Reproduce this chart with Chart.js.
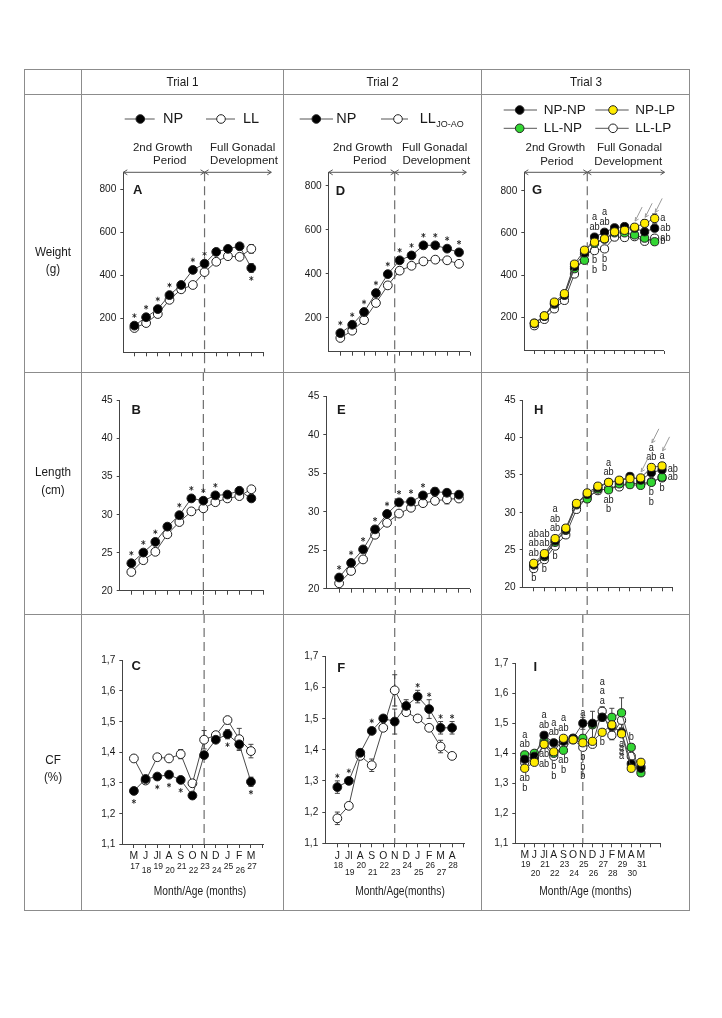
<!DOCTYPE html>
<html>
<head>
<meta charset="utf-8">
<script src="https://cdn.jsdelivr.net/npm/chart.js@4.4.0/dist/chart.umd.min.js"></script>
<style>
  body { margin:0; background:#fff; width:722px; height:1018px; position:relative; overflow:hidden;
         font-family:"Liberation Sans", Arial, sans-serif; color:#1a1a1a; }
  canvas { position:absolute; }
  .ln { position:absolute; background:#8c8c8c; z-index:5; }
</style>
</head>
<body>
<canvas id="frame" width="722" height="1018" style="left:0;top:0;width:722px;height:1018px"></canvas>
<script>
// ---------- data ----------
const monthsT1 = ['M','J','Jl','A','S','O','N','D','J','F','M'];
const agesT1   = [17,18,19,20,21,22,23,24,25,26,27];
const monthsT2 = ['J','Jl','A','S','O','N','D','J','F','M','A'];
const agesT2   = [18,19,20,21,22,23,24,25,26,27,28];
const monthsT3 = ['M','J','Jl','A','S','O','N','D','J','F','M','A','M'];
const agesT3   = [19,20,21,22,23,24,25,26,27,28,29,30,31];

const weightTicks = [200,400,600,800];
const lengthTicks = [20,25,30,35,40,45];
const cfTicks     = [1.1,1.2,1.3,1.4,1.5,1.6,1.7];

// trial 1
const weightT1NP = [166,205,243,308,355,425,454,509,523,535,434];
const weightT1LL = [155,178,220,286,335,355,415,463,489,486,523];
const lengthT1NP = [23.6,25.0,26.4,28.4,29.9,32.1,31.8,32.5,32.6,33.1,32.1];
const lengthT1LL = [22.45,24.0,25.1,27.4,29.0,30.4,30.8,31.6,32.1,32.4,33.3];
const cfT1NP     = [1.273,1.312,1.32,1.326,1.309,1.258,1.39,1.44,1.458,1.425,1.303];
const cfT1LL     = [1.379,1.307,1.383,1.379,1.393,1.298,1.44,1.455,1.504,1.442,1.403];

// trial 2
const weightT2NP = [130,168,226,312,398,461,483,529,529,514,497];
const weightT2LL = [108,141,189,267,347,414,436,456,464,461,445];
const lengthT2NP = [21.45,23.35,25.1,27.7,29.7,31.2,31.3,32.1,32.6,32.45,32.2];
const lengthT2LL = [20.7,22.3,23.8,27.0,28.55,29.75,30.5,31.1,31.4,31.6,31.7];
const cfT2NP     = [1.28,1.30,1.39,1.46,1.50,1.49,1.54,1.57,1.53,1.47,1.47];
const cfT2LL     = [1.18,1.22,1.38,1.35,1.47,1.59,1.52,1.50,1.47,1.41,1.38];

// trial 3
const weightT3NPLP = [172,207,272,312,452,518,556,572,605,612,627,645,668];
const weightT3NPNP = [170,205,265,305,440,505,580,603,624,630,622,605,622];
const weightT3LLNP = [172,205,262,305,430,470,550,570,600,600,590,575,558];
const weightT3LLLP = [160,190,240,280,405,498,516,524,580,578,582,560,575];
const lengthT3NPLP = [23.2,24.5,26.5,27.9,31.2,32.6,33.5,34.0,34.3,34.5,34.6,36.0,36.2];
const lengthT3NPNP = [23.0,24.2,26.2,27.7,31.1,32.4,33.3,34.0,34.2,34.8,34.3,35.3,35.7];
const lengthT3LLNP = [23.0,24.1,26.0,27.6,31.0,31.8,33.1,33.0,33.8,33.7,33.6,34.0,34.7];
const lengthT3LLLP = [22.5,23.7,25.5,27.0,30.4,32.0,32.9,33.2,33.4,33.9,33.8,34.1,34.6];
const cfT3NPLP = [1.35,1.37,1.43,1.405,1.45,1.445,1.435,1.44,1.47,1.495,1.465,1.35,1.37];
const cfT3NPNP = [1.38,1.39,1.46,1.435,1.44,1.45,1.50,1.50,1.52,1.49,1.47,1.365,1.35];
const cfT3LLNP = [1.395,1.40,1.44,1.40,1.41,1.45,1.45,1.495,1.52,1.52,1.535,1.42,1.335];
const cfT3LLLP = [1.37,1.38,1.43,1.39,1.43,1.445,1.42,1.43,1.54,1.46,1.51,1.39,1.355];

// standard errors (only where a bar is visible)
const weightT1NPErr = [0,0,0,0,0,0,0,0,0,15,20];
const weightT1LLErr = [0,0,0,0,0,0,0,0,0,0,20];
const lengthT2NPErr = [0,0,0,0,0,0,0,0,0.5,0,0];
const lengthT2LLErr = [0,0,0,0,0,0,0,0,0,0.6,0];
const cfT1NPErr = [0.01,0,0,0,0,0,0.01,0,0.015,0.02,0.015];
const cfT1LLErr = [0,0,0,0,0.015,0.012,0.03,0.01,0.012,0.035,0.022];
const cfT2NPErr = [0.02,0,0,0,0,0.04,0.02,0.02,0.03,0.02,0.02];
const cfT2LLErr = [0.02,0,0,0.02,0,0.05,0,0,0,0.02,0];
const weightT3NPLPErr = [0,0,0,0,0,0,0,0,0,0,15,18,22];
const weightT3NPNPErr = [0,0,0,0,0,0,0,0,0,0,0,0,15];
const cfT3NPNPErr = [0,0,0,0,0,0,0.02,0,0,0,0,0,0];
const cfT3LLNPErr = [0,0,0,0,0,0,0,0.045,0,0.03,0.05,0,0];
const cfT3LLLPErr = [0,0,0,0,0,0,0,0,0.015,0.015,0,0,0];

// significance marks
const starsT1WeightAbove = [0,1,2,3,5,6];
const starsT1WeightBelow = [10];
const starsT1LengthAbove = [0,1,2,4,5,6,7];
const starsT1CFBelow     = [0,2,3,4,8,10];
const starsT2WeightAbove = [0,1,2,3,4,5,6,7,8,9,10];
const starsT2LengthAbove = [0,1,2,3,4,5,6,7];
const starsT2CFAbove     = [0,1,3,7,8,9,10];

// trial 3 series order: 0 NP-LP, 1 NP-NP, 2 LL-NP, 3 LL-LP
const lettersT3Weight = [
  {i:6, above:['a','ab'], below:['b','b']},
  {i:7, above:['a','ab'], below:['b','b']},
  {i:12, right:[[0,'a'],[1,'ab'],[3,'ab'],[2,'b']]}
];
const lettersT3Length = [
  {i:0, above:['ab','ab','ab'], below:['b']},
  {i:1, above:['ab','ab'], below:['b']},
  {i:2, above:['a','ab','ab'], below:['b']},
  {i:7, above:['a','ab'], below:['ab','b']},
  {i:11, above:['a','ab'], below:['b','b']},
  {i:12, above:['a'], right:[[1,'ab'],[2,'ab']], below:['b']}
];
const lettersT3CF = [
  {i:0, above:['a','ab'], below:['ab','b']},
  {i:2, above:['a','ab'], below:['ab','ab']},
  {i:3, above:['a','ab'], below:['b','b']},
  {i:4, above:['a','ab'], below:['ab','b']},
  {i:6, above:['a'], below:['b','b','b']},
  {i:8, above:['a','a','a'], below:['b']},
  {i:10, below:['a','a','a','a'], gap:4},
  {i:11, above:['b']}
];
const arrowsT3 = [10,11,12];

// ---------- drawing helpers ----------
const FONT = '"Liberation Sans", Arial, sans-serif';
function txt(ctx, s, x, y, size, o = {}) {
  ctx.save();
  ctx.font = (o.bold ? 'bold ' : '') + size + 'px ' + FONT;
  ctx.fillStyle = o.color || '#1a1a1a';
  ctx.textAlign = o.align || 'center';
  ctx.textBaseline = 'middle';
  ctx.translate(x, y); ctx.scale(o.sx || 1, 1);
  ctx.fillText(s, 0, 0);
  ctx.restore();
}
function star(ctx, x, y) {
  ctx.save(); ctx.strokeStyle = '#222'; ctx.lineWidth = 0.9; ctx.beginPath();
  for (let k = 0; k < 3; k++) {
    const a = Math.PI / 2 + k * Math.PI / 3, c = 2.3 * Math.cos(a), s = 2.3 * Math.sin(a);
    ctx.moveTo(x - c, y - s); ctx.lineTo(x + c, y + s);
  }
  ctx.stroke(); ctx.restore();
}
function hArrow(ctx, x1, x2, y) {
  ctx.beginPath();
  ctx.moveTo(x1, y); ctx.lineTo(x2, y);
  ctx.moveTo(x1 + 4, y - 2.5); ctx.lineTo(x1, y); ctx.lineTo(x1 + 4, y + 2.5);
  ctx.moveTo(x2 - 4, y - 2.5); ctx.lineTo(x2, y); ctx.lineTo(x2 - 4, y + 2.5);
  ctx.stroke();
}
function dot(ctx, x, y, r, fill) {
  ctx.beginPath(); ctx.arc(x, y, r, 0, Math.PI * 2);
  ctx.fillStyle = fill; ctx.fill(); ctx.strokeStyle = '#222'; ctx.lineWidth = 1; ctx.stroke();
}

// ---------- page frame ----------
const vLines = [24.5, 81.5, 283, 481.5, 689.5];
const hLines = [69.5, 94.5, 372, 614, 910];
vLines.forEach(x => {
  const d = document.createElement('div'); d.className = 'ln';
  d.style.cssText = `left:${Math.round(x-0.5)}px;top:69px;width:1px;height:842px`;
  document.body.appendChild(d);
});
hLines.forEach(y => {
  const d = document.createElement('div'); d.className = 'ln';
  d.style.cssText = `left:24px;top:${Math.round(y-0.5)}px;width:666px;height:1px`;
  document.body.appendChild(d);
});
const fctx = document.getElementById('frame').getContext('2d');
[['Trial 1', 182.5, 82], ['Trial 2', 382.5, 82], ['Trial 3', 586, 82],
 ['Weight', 53, 252], ['(g)', 53, 269],
 ['Length', 53, 472], ['(cm)', 53, 490],
 ['CF', 53, 760], ['(%)', 53, 777]].forEach(([t, x, y]) => txt(fctx, t, x, y, 13, {sx: 0.9}));

const panelOf = new WeakMap();

const extras = {
  id: 'extras',
  beforeDatasetsDraw(chart) {
    const p = panelOf.get(chart.canvas); if (!p) return;
    const ctx = chart.ctx, xs = chart.scales.x, ys = chart.scales.y, oy = p.cell[1];
    // period divider
    const dx = xs.getPixelForValue(p.dashX);
    const y0 = p.dashFrom != null ? p.dashFrom - oy : 0;
    const y1 = p.dashTo === 'axis' ? chart.chartArea.bottom : chart.height;
    ctx.save(); ctx.strokeStyle = '#6e6e6e'; ctx.lineWidth = 1.2; ctx.setLineDash([9, 5]);
    ctx.beginPath(); ctx.moveTo(dx, y0); ctx.lineTo(dx, y1); ctx.stroke(); ctx.restore();
    // error bars
    ctx.save(); ctx.strokeStyle = '#444'; ctx.lineWidth = 1;
    (p.errs || []).forEach(e => {
      const vals = p.series[e.s].values;
      e.e.forEach((err, i) => {
        if (!err) return;
        const x = xs.getPixelForValue(i);
        const ya = ys.getPixelForValue(vals[i] + err), yb = ys.getPixelForValue(vals[i] - err);
        ctx.beginPath();
        ctx.moveTo(x, ya); ctx.lineTo(x, yb);
        ctx.moveTo(x - 2.5, ya); ctx.lineTo(x + 2.5, ya);
        ctx.moveTo(x - 2.5, yb); ctx.lineTo(x + 2.5, yb);
        ctx.stroke();
      });
    });
    ctx.restore();
  },
  afterDatasetsDraw(chart) {
    const p = panelOf.get(chart.canvas); if (!p) return;
    const ctx = chart.ctx, xs = chart.scales.x, ys = chart.scales.y;
    // stars
    (p.stars || []).forEach(st => {
      const vals = p.series[st.s].values, errs = st.err || [];
      (st.above || []).forEach(i => {
        const py = ys.getPixelForValue(vals[i]);
        const ey = errs[i] ? ys.getPixelForValue(vals[i] + errs[i]) - 5 : py;
        star(ctx, xs.getPixelForValue(i), Math.min(py - 10, ey));
      });
      (st.below || []).forEach(i => {
        const py = ys.getPixelForValue(vals[i]);
        const ey = errs[i] ? ys.getPixelForValue(vals[i] - errs[i]) + 5 : py;
        star(ctx, xs.getPixelForValue(i), Math.max(py + 10.5, ey));
      });
    });
    // letters
    const stackTop = {};
    (p.letters || []).forEach(L => {
      const x = xs.getPixelForValue(L.i);
      const pys = p.series.map(s => ys.getPixelForValue(s.values[L.i]));
      const top = Math.min(...pys) - p.r, bot = Math.max(...pys) + p.r;
      const gap = L.gap || 9.5;
      const ab = (L.above || []).slice().reverse();
      ab.forEach((t, k) => txt(ctx, t, x, top - 6 - k * gap, 10, {sx: 0.92}));
      if (ab.length) stackTop[L.i] = top - 6 - (ab.length - 1) * gap - 5;
      (L.below || []).forEach((t, k) => txt(ctx, t, x, bot + 6 + k * gap, 10, {sx: 0.92}));
      (L.right || []).forEach(([s, t]) => txt(ctx, t, x + p.r + 1.5, pys[s], 10, {align: 'left', sx: 0.92}));
    });
    // pointer arrows
    ctx.save(); ctx.strokeStyle = '#9a9a9a'; ctx.lineWidth = 1;
    (p.arrows || []).forEach(i => {
      const x = xs.getPixelForValue(i) + 0.5;
      const pys = p.series.map(s => ys.getPixelForValue(s.values[i]));
      let top = Math.min(...pys) - p.r - 2;
      if (stackTop[i] != null) top = stackTop[i];
      const tx = x + 7, ty = top - 14;
      ctx.beginPath(); ctx.moveTo(tx, ty); ctx.lineTo(x, top);
      ctx.moveTo(x + 0.5, top - 4); ctx.lineTo(x, top); ctx.lineTo(x + 3.5, top - 2);
      ctx.stroke();
    });
    ctx.restore();
  },
  afterDraw(chart) {
    const p = panelOf.get(chart.canvas); if (!p) return;
    const ctx = chart.ctx, xs = chart.scales.x, ys = chart.scales.y;
    const ox = p.cell[0], oy = p.cell[1], area = chart.chartArea;
    // y tick labels
    p.yTicks.forEach(v => txt(ctx, p.yFmt(v), area.left - 7, ys.getPixelForValue(v), 11.5, {align: 'right', sx: 0.88}));
    // panel tag
    txt(ctx, p.tag[0], p.tag[1] - ox, p.tag[2] - oy, 13, {bold: true});
    // period arrows and texts
    if (p.arrow) {
      const dx = xs.getPixelForValue(p.dashX), y = p.arrow.y - oy;
      ctx.save(); ctx.strokeStyle = '#555'; ctx.lineWidth = 1;
      hArrow(ctx, area.left, dx, y); hArrow(ctx, dx, p.arrow.right - ox, y);
      ctx.restore();
      p.period.forEach(([t, x, yy]) => txt(ctx, t, x - ox, yy - oy, 11.5, {color: '#222'}));
    }
    // legend
    (p.legend || []).forEach(L => {
      ctx.save(); ctx.strokeStyle = '#555'; ctx.lineWidth = 1;
      ctx.beginPath(); ctx.moveTo(L.x1 - ox, L.y - oy); ctx.lineTo(L.x2 - ox, L.y - oy); ctx.stroke();
      dot(ctx, L.dot - ox, L.y - oy, 4.3, L.fill);
      ctx.restore();
      txt(ctx, L.text, L.tx - ox, L.y - oy, L.size || 14.5, {align: 'left'});
      if (L.sub) {
        ctx.save(); ctx.font = (L.size || 14.5) + 'px ' + FONT;
        const w = ctx.measureText(L.text).width; ctx.restore();
        txt(ctx, L.sub, L.tx - ox + w + 0.5, L.y - oy + 6, 9, {align: 'left'});
      }
    });
    // month / age axis labels
    if (p.xlab) {
      const X = p.xlab;
      X.months.forEach((m, i) => {
        const x = xs.getPixelForValue(i);
        txt(ctx, m, x, X.my - oy, 11.5, {sx: 0.9});
        txt(ctx, String(X.ages[i]), x + 1, (i % 2 ? X.a2 : X.a1) - oy, 9.5, {sx: 0.9});
      });
      txt(ctx, X.title, X.tx - ox, X.ty - oy, 12, {sx: 0.85});
    }
  }
};

// ---------- panels ----------
const C1 = [82, 283], C2 = [283, 482], C3 = [482, 690];
const R1 = [95, 372], R2 = [372, 614], R3 = [614, 910];
const cell = (c, r) => [c[0], r[0], c[1], r[1]];
const fmtInt = v => String(v);
const fmtCF = v => v.toFixed(1).replace('.', ',');
const YELLOW = '#ffeb00', GREEN = '#33d633';

const t1 = (a, b) => [{values: a, fill: '#000'}, {values: b, fill: '#fff'}];
const t3 = (y, k, g, w) => [{values: y, fill: YELLOW}, {values: k, fill: '#000'}, {values: g, fill: GREEN}, {values: w, fill: '#fff'}];

const panels = [
  { // A
    cell: cell(C1, R1), box: {left: 123.3, right: 263, top: 172.3, bottom: 352.3},
    xmin: -0.95, xmax: 11, ymin: 42, ymax: 879, yTicks: weightTicks, yFmt: fmtInt, r: 4.4,
    series: t1(weightT1NP, weightT1LL), dashX: 6, dashFrom: 172.3,
    arrow: {y: 172.3, right: 271.3}, tag: ['A', 137.7, 190],
    period: [['2nd Growth', 162.7, 148.3], ['Period', 169.7, 160.7], ['Full Gonadal', 242.7, 148.3], ['Development', 244, 160.7]],
    legend: [{x1: 124.7, x2: 154.7, y: 119, dot: 140.3, fill: '#000', text: 'NP', tx: 163},
             {x1: 206, x2: 235, y: 119, dot: 221, fill: '#fff', text: 'LL', tx: 243}],
    stars: [{s: 0, above: starsT1WeightAbove, below: starsT1WeightBelow, err: weightT1NPErr}],
    errs: [{s: 0, e: weightT1NPErr}, {s: 1, e: weightT1LLErr}]
  },
  { // D
    cell: cell(C2, R1), box: {left: 328.7, right: 469.7, top: 172.3, bottom: 351.7},
    xmin: -0.98, xmax: 10.9, ymin: 45.5, ymax: 861, yTicks: weightTicks, yFmt: fmtInt, r: 4.4,
    series: t1(weightT2NP, weightT2LL), dashX: 4.58, dashFrom: 172.3,
    arrow: {y: 172.3, right: 466.3}, tag: ['D', 340.5, 191.7],
    period: [['2nd Growth', 362.7, 148.3], ['Period', 369.7, 160.7], ['Full Gonadal', 434.7, 148.3], ['Development', 436.3, 160.7]],
    legend: [{x1: 299.7, x2: 333, y: 119, dot: 316.3, fill: '#000', text: 'NP', tx: 336.3},
             {x1: 381, x2: 408, y: 119, dot: 398, fill: '#fff', text: 'LL', tx: 419.7, sub: 'JO-AO'}],
    stars: [{s: 0, above: starsT2WeightAbove}]
  },
  { // G
    cell: cell(C3, R1), box: {left: 524.3, right: 663.7, top: 172.3, bottom: 350},
    xmin: -1.0, xmax: 12.9, ymin: 45, ymax: 887, yTicks: weightTicks, yFmt: fmtInt, r: 4.1,
    series: t3(weightT3NPLP, weightT3NPNP, weightT3LLNP, weightT3LLLP), dashX: 5.28, dashFrom: 172.3,
    arrow: {y: 172.3, right: 664.5}, tag: ['G', 537, 190],
    period: [['2nd Growth', 555.3, 148.3], ['Period', 556.8, 161.7], ['Full Gonadal', 629.5, 148.3], ['Development', 628.2, 161.7]],
    legend: [{x1: 503.7, x2: 537, y: 110, dot: 519.7, fill: '#000', text: 'NP-NP', tx: 543.7, size: 13.5},
             {x1: 595.3, x2: 628.7, y: 110, dot: 613, fill: YELLOW, text: 'NP-LP', tx: 635.3, size: 13.5},
             {x1: 503.7, x2: 537, y: 128.3, dot: 519.7, fill: GREEN, text: 'LL-NP', tx: 543.7, size: 13.5},
             {x1: 595.3, x2: 628.7, y: 128.3, dot: 613, fill: '#fff', text: 'LL-LP', tx: 635.3, size: 13.5}],
    letters: lettersT3Weight, arrows: arrowsT3,
    errs: [{s: 0, e: weightT3NPLPErr}, {s: 1, e: weightT3NPNPErr}]
  },
  { // B
    cell: cell(C1, R2), box: {left: 119.7, right: 263, top: 400, bottom: 590.7},
    xmin: -0.97, xmax: 10.97, ymin: 20, ymax: 45, yTicks: lengthTicks, yFmt: fmtInt, r: 4.4,
    series: t1(lengthT1NP, lengthT1LL), dashX: 6, tag: ['B', 136.3, 410],
    stars: [{s: 0, above: starsT1LengthAbove}]
  },
  { // E
    cell: cell(C2, R2), box: {left: 326.3, right: 469.7, top: 396, bottom: 588.7},
    xmin: -1.07, xmax: 10.9, ymin: 20, ymax: 45, yTicks: lengthTicks, yFmt: fmtInt, r: 4.4,
    series: t1(lengthT2NP, lengthT2LL), dashX: 4.69, tag: ['E', 341.3, 410.7],
    stars: [{s: 0, above: starsT2LengthAbove, err: lengthT2NPErr}],
    errs: [{s: 0, e: lengthT2NPErr}, {s: 1, e: lengthT2LLErr}]
  },
  { // H
    cell: cell(C3, R2), box: {left: 522.7, right: 672, top: 400, bottom: 587.3},
    xmin: -1.03, xmax: 12.93, ymin: 20, ymax: 45, yTicks: lengthTicks, yFmt: fmtInt, r: 4.1,
    series: t3(lengthT3NPLP, lengthT3NPNP, lengthT3LLNP, lengthT3LLLP), dashX: 5.0, tag: ['H', 538.7, 410],
    letters: lettersT3Length, arrows: arrowsT3
  },
  { // C
    cell: cell(C1, R3), box: {left: 122.3, right: 263, top: 660, bottom: 844},
    xmin: -0.99, xmax: 11.03, ymin: 1.1, ymax: 1.7, yTicks: cfTicks, yFmt: fmtCF, r: 4.4,
    series: t1(cfT1NP, cfT1LL), dashX: 6, dashTo: 'axis', tag: ['C', 136.3, 666.7],
    stars: [{s: 0, below: starsT1CFBelow, err: cfT1NPErr}],
    errs: [{s: 0, e: cfT1NPErr}, {s: 1, e: cfT1LLErr}],
    xlab: {months: monthsT1, ages: agesT1, my: 855.7, a1: 866, a2: 870, title: 'Month/Age (months)', tx: 200, ty: 891.7}
  },
  { // F
    cell: cell(C2, R3), box: {left: 325.3, right: 464.7, top: 656, bottom: 843.3},
    xmin: -1.05, xmax: 11.1, ymin: 1.1, ymax: 1.7, yTicks: cfTicks, yFmt: fmtCF, r: 4.4,
    series: t1(cfT2NP, cfT2LL), dashX: 5, dashTo: 'axis', tag: ['F', 341.3, 668.3],
    stars: [{s: 0, above: starsT2CFAbove, err: cfT2NPErr}],
    errs: [{s: 0, e: cfT2NPErr}, {s: 1, e: cfT2LLErr}],
    xlab: {months: monthsT2, ages: agesT2, my: 855.7, a1: 865, a2: 872, title: 'Month/Age(months)', tx: 400, ty: 891.7}
  },
  { // I
    cell: cell(C3, R3), box: {left: 515.3, right: 660.3, top: 663.3, bottom: 843.3},
    xmin: -0.97, xmax: 14.0, ymin: 1.1, ymax: 1.7, yTicks: cfTicks, yFmt: fmtCF, r: 4.1,
    series: t3(cfT3NPLP, cfT3NPNP, cfT3LLNP, cfT3LLLP), dashX: 6, dashTo: 'axis', tag: ['I', 535.3, 667.7],
    letters: lettersT3CF,
    errs: [{s: 1, e: cfT3NPNPErr}, {s: 2, e: cfT3LLNPErr}, {s: 3, e: cfT3LLLPErr}],
    xlab: {months: monthsT3, ages: agesT3, my: 855, a1: 864, a2: 873, title: 'Month/Age (months)', tx: 585.5, ty: 891.7}
  }
];

const YW = 20, XH = 5;
panels.forEach(p => {
  const w = p.cell[2] - p.cell[0], h = p.cell[3] - p.cell[1];
  const cv = document.createElement('canvas');
  cv.width = w; cv.height = h;
  cv.style.left = p.cell[0] + 'px'; cv.style.top = p.cell[1] + 'px';
  cv.style.width = w + 'px'; cv.style.height = h + 'px';
  document.body.appendChild(cv);
  panelOf.set(cv, p);
  const nTicks = Math.floor(p.xmax + 0.15);
  new Chart(cv, {
    type: 'line',
    data: {
      datasets: p.series.map(s => ({
        data: s.values.map((v, i) => ({x: i, y: v})),
        borderColor: '#4a4a4a', borderWidth: 1, tension: 0, fill: false,
        pointRadius: p.r, pointBackgroundColor: s.fill,
        pointBorderColor: '#1e1e1e', pointBorderWidth: 1
      }))
    },
    options: {
      responsive: false, animation: false, devicePixelRatio: 1,
      layout: {padding: {
        left: p.box.left - p.cell[0] - YW,
        right: p.cell[2] - p.box.right,
        top: p.box.top - p.cell[1],
        bottom: p.cell[3] - p.box.bottom - XH
      }},
      plugins: {legend: {display: false}, tooltip: {enabled: false}},
      scales: {
        x: {
          type: 'linear', min: p.xmin, max: p.xmax,
          afterFit: s => { s.height = XH; },
          afterBuildTicks: s => { s.ticks = Array.from({length: nTicks + 1}, (_, k) => ({value: k})); },
          ticks: {display: false},
          grid: {drawOnChartArea: false, drawTicks: true, tickLength: 4, color: '#444', lineWidth: 1},
          border: {display: true, color: '#444', width: 1}
        },
        y: {
          type: 'linear', min: p.ymin, max: p.ymax,
          afterFit: s => { s.width = YW; },
          afterBuildTicks: s => { s.ticks = p.yTicks.map(v => ({value: v})); },
          ticks: {display: false},
          grid: {drawOnChartArea: false, drawTicks: true, tickLength: 3, color: '#444', lineWidth: 1},
          border: {display: true, color: '#444', width: 1}
        }
      }
    },
    plugins: [extras]
  });
});
</script>
</body>
</html>
